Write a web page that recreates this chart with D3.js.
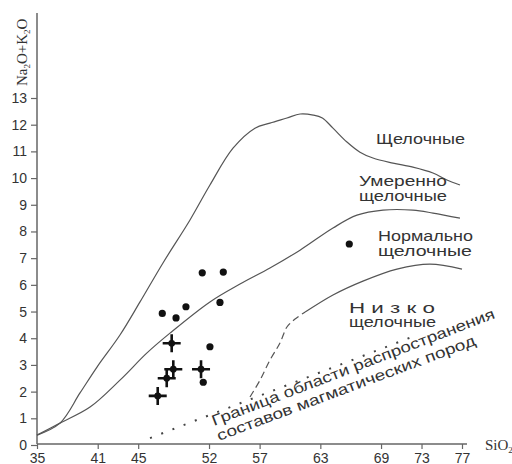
<!DOCTYPE html>
<html>
<head>
<meta charset="utf-8">
<script src="https://cdn.jsdelivr.net/npm/d3@7"></script>
<style>
  html, body { margin: 0; padding: 0; background: #fff; }
  svg { display: block; }
</style>
</head>
<body>
<svg id="chart" width="512" height="464"></svg>
<script>
// Axis ticks
const xTicks = [35, 41, 45, 52, 57, 63, 69, 73, 77];
const yTicks = [0, 1, 2, 3, 4, 5, 6, 7, 8, 9, 10, 11, 12, 13];

// Samples shown as filled circles (SiO2, Na2O+K2O, wt.%)
const dotSiO2 = [51.33, 53.41, 53.08, 47.38, 49.72, 48.74, 52.09, 51.43, 65.86];
const dotAlk  = [6.45, 6.48, 5.34, 4.93, 5.18, 4.76, 3.68, 2.35, 7.53];

// Samples shown as crosses
const crossSiO2 = [48.31, 48.47, 47.82, 51.21, 46.93];
const crossAlk  = [3.81, 2.84, 2.50, 2.84, 1.84];

// Upper envelope / alkaline series boundary
const outerBoundary = [
  [35, 0.37], [37.27, 0.82], [39.25, 1.95], [40.93, 2.92], [43.2, 4.12],
  [45.18, 5.36], [47.45, 6.82], [50.12, 8.43], [52.09, 9.74], [54.37, 11.12],
  [56.54, 11.87], [58.02, 12.06], [59.7, 12.25], [61.0, 12.4], [62.3, 12.36],
  [63.2, 12.25], [64.25, 11.87], [65.63, 11.35], [66.92, 10.97], [68.2, 10.75],
  [70.18, 10.56], [72.15, 10.41], [74.13, 10.19], [75.51, 9.93], [76.8, 9.74]
];
// Moderately alkaline / normal alkaline boundary
const moderateBoundary = [
  [35, 0.37], [37.27, 0.82], [40.24, 1.42], [43.2, 2.43], [45.87, 3.45],
  [48.14, 4.19], [52.09, 5.36], [55.06, 6.03], [58.02, 6.63], [60.99, 7.30],
  [64.25, 8.13], [66.62, 8.61], [69.19, 8.80], [72.15, 8.80], [74.13, 8.69],
  [76.8, 8.50]
];
// Normal / low alkaline boundary (solid part)
const lowBoundary = [
  [61.5, 4.98], [64.25, 5.62], [67.21, 6.14], [70.57, 6.59], [73.83, 6.78], [77.0, 6.59]
];
// Its uncertain continuation (dashed)
const lowBoundaryDashed = [
  [56.05, 1.80], [57.04, 2.43], [58.02, 3.18], [59.01, 3.82], [59.7, 4.42],
  [60.5, 4.72], [61.5, 4.98]
];
// Limit of igneous rock compositions (dotted)
const rockLimit = [[46.17, 0.26], [72.55, 4.12]];

const svg = d3.select("#chart");

const x = d3.scaleLinear().domain([35, 77]).range([37, 462]);
const y = d3.scaleLinear().domain([0, 13]).range([445, 98]);

const ink = "#333";
const lineCol = "#555";

// Axes
const xAxis = d3.axisBottom(x).tickValues(xTicks).tickSize(5).tickSizeOuter(0);
const gx = svg.append("g").attr("transform", "translate(0,444)").call(xAxis);
gx.select(".domain").remove();
gx.append("line").attr("x1", 37).attr("x2", 467).attr("y1", 0).attr("y2", 0)
  .attr("stroke", "#666").attr("stroke-width", 1.5);
gx.selectAll(".tick line").attr("stroke", "#666").attr("stroke-width", 1.2);
gx.selectAll(".tick text").attr("fill", ink)
  .attr("font-family", "'Liberation Sans', Arial, sans-serif").attr("font-size", 14)
  .attr("dy", null).attr("y", 18.5);

const yAxis = d3.axisLeft(y).tickValues(yTicks).tickSize(6).tickSizeOuter(0).tickPadding(4);
const gy = svg.append("g").attr("transform", "translate(37,0)").call(yAxis);
gy.select(".domain").remove();
gy.append("line").attr("x1", 0).attr("x2", 0).attr("y1", 13).attr("y2", 444)
  .attr("stroke", "#666").attr("stroke-width", 1.5);
gy.selectAll(".tick line").attr("stroke", "#666").attr("stroke-width", 1.2);
gy.selectAll(".tick text").attr("fill", ink)
  .attr("font-family", "'Liberation Sans', Arial, sans-serif").attr("font-size", 14);

// Axis titles
const yTitle = svg.append("text")
  .attr("transform", "translate(27,86) rotate(-90)")
  .attr("font-family", "'Liberation Serif', 'Times New Roman', serif")
  .attr("font-size", 15).attr("fill", ink);
yTitle.append("tspan").text("Na");
yTitle.append("tspan").attr("font-size", 9).attr("dy", 3).text("2");
yTitle.append("tspan").attr("dy", -3).text("O+K");
yTitle.append("tspan").attr("font-size", 9).attr("dy", 3).text("2");
yTitle.append("tspan").attr("dy", -3).text("O");

const xTitle = svg.append("text")
  .attr("x", 485).attr("y", 450)
  .attr("font-family", "'Liberation Serif', 'Times New Roman', serif")
  .attr("font-size", 15).attr("fill", ink);
xTitle.append("tspan").text("SiO");
xTitle.append("tspan").attr("font-size", 9).attr("dy", 3).text("2");

// Field boundaries
const line = d3.line().x(d => x(d[0])).y(d => y(d[1])).curve(d3.curveCatmullRom.alpha(0.5));

[outerBoundary, moderateBoundary, lowBoundary].forEach(pts => {
  svg.append("path").datum(pts).attr("d", line)
    .attr("fill", "none").attr("stroke", lineCol).attr("stroke-width", 1.2);
});
svg.append("path").datum(lowBoundaryDashed).attr("d", line)
  .attr("fill", "none").attr("stroke", lineCol).attr("stroke-width", 1.2)
  .attr("stroke-dasharray", "7,4");
svg.append("path").datum(rockLimit).attr("d", d3.line().x(d => x(d[0])).y(d => y(d[1])))
  .attr("fill", "none").attr("stroke", "#444").attr("stroke-width", 2)
  .attr("stroke-dasharray", "2,10");

// Field names
const labelFont = "'Liberation Sans', Arial, sans-serif";
const labels = [
  { t: "Щелочные", x: 376, y: 144, w: 89 },
  { t: "Умеренно", x: 359, y: 185.5, w: 88 },
  { t: "щелочные", x: 359, y: 201, w: 88 },
  { t: "Нормально", x: 378, y: 240.5, w: 95 },
  { t: "щелочные", x: 378, y: 256, w: 94 },
  { t: "Н и з к о", x: 349, y: 312.5, w: 86 },
  { t: "щелочные", x: 349, y: 327, w: 87 }
];
svg.selectAll("text.field").data(labels).join("text")
  .attr("class", "field")
  .attr("x", d => d.x).attr("y", d => d.y)
  .attr("textLength", d => d.w).attr("lengthAdjust", "spacingAndGlyphs")
  .attr("font-family", labelFont).attr("font-size", 14).attr("fill", ink)
  .text(d => d.t);

// Rotated caption along the dotted limit
svg.append("text")
  .attr("transform", "translate(214,426) rotate(-21)")
  .attr("textLength", 302).attr("lengthAdjust", "spacingAndGlyphs")
  .attr("font-family", labelFont).attr("font-size", 15).attr("fill", ink)
  .text("Граница области распространения");
svg.append("text")
  .attr("transform", "translate(219,441) rotate(-20.5)")
  .attr("textLength", 275).attr("lengthAdjust", "spacingAndGlyphs")
  .attr("font-family", labelFont).attr("font-size", 15).attr("fill", ink)
  .text("составов магматических пород");

// Samples
const dots = dotSiO2.map((s, i) => [s, dotAlk[i]]);
svg.selectAll("circle.dot").data(dots).join("circle")
  .attr("class", "dot")
  .attr("cx", d => x(d[0])).attr("cy", d => y(d[1])).attr("r", 3.6)
  .attr("fill", "#111");

const crosses = crossSiO2.map((s, i) => [s, crossAlk[i]]);
const cg = svg.selectAll("g.cross").data(crosses).join("g")
  .attr("class", "cross")
  .attr("transform", d => `translate(${x(d[0])},${y(d[1])})`);
cg.append("path").attr("d", "M-9,0H9M0,-9V9")
  .attr("stroke", "#111").attr("stroke-width", 2.6);
cg.append("circle").attr("r", 3.4).attr("fill", "#111");
</script>
</body>
</html>
